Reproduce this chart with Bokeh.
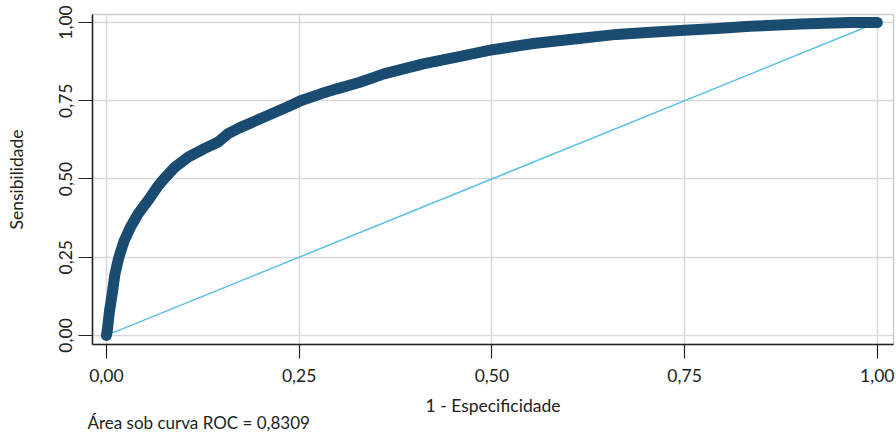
from bokeh.plotting import figure
from bokeh.models import FixedTicker, Range1d, Title
from bokeh.embed import file_html
from bokeh.resources import INLINE

# ROC curve
fpr = [0.0, 0.001, 0.004, 0.008, 0.011, 0.016, 0.023, 0.031, 0.041, 0.054, 0.066,
       0.074, 0.089, 0.106, 0.127, 0.145, 0.158, 0.174, 0.204, 0.239, 0.252,
       0.278, 0.299, 0.329, 0.360, 0.411, 0.459, 0.501, 0.554, 0.610, 0.662,
       0.706, 0.750, 0.792, 0.835, 0.900, 0.965, 1.0]
tpr = [0.0, 0.013, 0.077, 0.141, 0.195, 0.248, 0.302, 0.345, 0.388, 0.431, 0.474,
       0.498, 0.538, 0.570, 0.597, 0.618, 0.645, 0.665, 0.697, 0.735, 0.750,
       0.772, 0.788, 0.809, 0.836, 0.868, 0.892, 0.913, 0.933, 0.948, 0.962,
       0.969, 0.975, 0.981, 0.988, 0.995, 1.0, 1.0]
ref_x = [0.0, 1.0]
ref_y = [0.0, 1.0]
ticks = [0.0, 0.25, 0.5, 0.75, 1.0]
tick_labels = ["0,00", "0,25", "0,50", "0,75", "1,00"]
auc_text = "Área sob curva ROC = 0,8309"

FONT = "Lato"
FS = "17.5px"

p = figure(width=896, height=433, output_backend="svg", toolbar_location=None,
           x_range=Range1d(-0.018, 1.021), y_range=Range1d(-0.029, 1.0256),
           min_border_left=92, min_border_right=3, min_border_top=14, min_border_bottom=89)
p.background_fill_color = "white"
p.border_fill_color = "white"
p.outline_line_color = "#cccccc"
p.outline_line_width = 1.5

for ax in (p.xaxis[0], p.yaxis[0]):
    ax.ticker = FixedTicker(ticks=ticks)
    ax.major_label_overrides = {t: l for t, l in zip(ticks, tick_labels)}
    ax.minor_tick_line_color = None
    ax.major_tick_in = 0
    ax.major_tick_out = 14
    ax.major_tick_line_color = "#222222"
    ax.major_tick_line_width = 1.2
    ax.axis_line_color = "#222222"
    ax.axis_line_width = 1.5
    ax.major_label_text_font = FONT
    ax.major_label_text_font_size = FS
    ax.major_label_text_color = "#222222"
    ax.axis_label_text_font = FONT
    ax.axis_label_text_font_size = FS
    ax.axis_label_text_font_style = "normal"
    ax.axis_label_text_color = "#222222"

p.xaxis.axis_label = "1 - Especificidade"
p.yaxis.axis_label = "Sensibilidade"
p.yaxis.major_label_orientation = "vertical"
p.xaxis.major_label_standoff = 10
p.xaxis.axis_label_standoff = 10
p.yaxis.major_label_standoff = 6
p.yaxis.axis_label_standoff = 30

p.grid.grid_line_color = "#d9d9d9"
p.grid.grid_line_width = 1.5
p.xgrid.ticker = FixedTicker(ticks=ticks)
p.ygrid.ticker = FixedTicker(ticks=ticks)

p.line(ref_x, ref_y, line_color="#5bbfe8", line_width=1.5)
p.line(fpr, tpr, line_color="#1a4b70", line_width=11,
       line_cap="round", line_join="round")

t = Title(text=auc_text, align="left", text_font=FONT, text_font_size="17px",
          text_font_style="normal", text_color="#222222", offset=-5, standoff=-17)
p.add_layout(t, "below")

open("out.html", "w").write(file_html(p, INLINE))
